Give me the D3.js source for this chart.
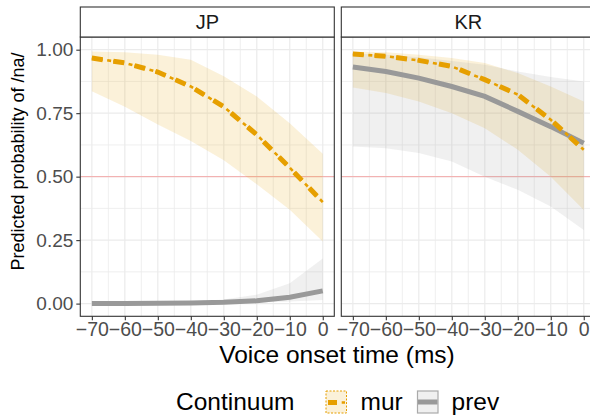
<!DOCTYPE html>
<html>
<head>
<meta charset="utf-8">
<script src="https://cdn.jsdelivr.net/npm/d3@7"></script>
<style>
  body { margin: 0; background: #fff; }
  text { font-family: "Liberation Sans", Arial, sans-serif; }
</style>
</head>
<body>
<div id="chart"></div>
<script>
// Voice onset time steps (ms)
const vot = [-70, -60, -50, -40, -30, -20, -10, 0];
const panels = ["JP", "KR"];

// Predicted probabilities
const jpMur = [0.967, 0.948, 0.912, 0.855, 0.775, 0.665, 0.535, 0.40];
const jpMurLo = [0.836, 0.775, 0.705, 0.64, 0.565, 0.47, 0.37, 0.245];
const jpMurHi = [0.993, 0.99, 0.98, 0.96, 0.895, 0.816, 0.71, 0.59];
const jpPrev = [0.0, 0.0005, 0.001, 0.002, 0.005, 0.011, 0.025, 0.05];
const jpPrevLo = [0, 0, 0, 0.001, 0.002, 0.004, 0.008, 0.014];
const jpPrevHi = [0.001, 0.002, 0.004, 0.008, 0.016, 0.035, 0.08, 0.178];

const krMur = [0.983, 0.974, 0.958, 0.934, 0.882, 0.823, 0.724, 0.606];
const krMurLo = [0.851, 0.829, 0.796, 0.75, 0.691, 0.606, 0.50, 0.369];
const krMurHi = [0.993, 0.99, 0.98, 0.967, 0.948, 0.908, 0.855, 0.796];
const krPrev = [0.932, 0.914, 0.888, 0.855, 0.816, 0.757, 0.697, 0.632];
const krPrevLo = [0.619, 0.612, 0.593, 0.56, 0.50, 0.448, 0.382, 0.29];
const krPrevHi = [0.985, 0.98, 0.97, 0.955, 0.941, 0.914, 0.892, 0.875];

const yTicks = [0, 0.25, 0.5, 0.75, 1];
const yMinor = [0.125, 0.375, 0.625, 0.875];
const xTicks = [-70, -60, -50, -40, -30, -20, -10, 0];
const xMinor = [-65, -55, -45, -35, -25, -15, -5];

const series = {
  JP: { mur: [jpMur, jpMurLo, jpMurHi], prev: [jpPrev, jpPrevLo, jpPrevHi] },
  KR: { mur: [krMur, krMurLo, krMurHi], prev: [krPrev, krPrevLo, krPrevHi] }
};

const orange = "#E69F00";
const grey = "#999999";

const width = 590;
const height = 416;
const panelW = 254;
const panelLeft = { JP: 80.3, KR: 341.3 };
const stripTop = 7;
const panelTop = 37;
const panelBottom = 316.3;

const svg = d3.select("#chart")
  .append("svg")
  .attr("width", width)
  .attr("height", height);

const y = d3.scaleLinear()
  .domain([-0.05, 1.05])
  .range([panelBottom, panelTop]);

panels.forEach(p => {
  const x0 = panelLeft[p];
  const x = d3.scaleLinear()
    .domain([-73.5, 3.5])
    .range([x0, x0 + panelW]);

  const g = svg.append("g");
  const clipId = "clip" + p;
  g.append("clipPath").attr("id", clipId)
    .append("rect")
    .attr("x", x0).attr("y", panelTop)
    .attr("width", panelW).attr("height", panelBottom - panelTop);

  // Grid
  g.selectAll(".ymin").data(yMinor).join("line")
    .attr("x1", x0).attr("x2", x0 + panelW)
    .attr("y1", d => y(d)).attr("y2", d => y(d))
    .attr("stroke", "#EBEBEB").attr("stroke-width", 0.8);
  g.selectAll(".xmin").data(xMinor).join("line")
    .attr("x1", d => x(d)).attr("x2", d => x(d))
    .attr("y1", panelTop).attr("y2", panelBottom)
    .attr("stroke", "#EBEBEB").attr("stroke-width", 0.8);
  g.selectAll(".ymaj").data(yTicks).join("line")
    .attr("x1", x0).attr("x2", x0 + panelW)
    .attr("y1", d => y(d)).attr("y2", d => y(d))
    .attr("stroke", "#EBEBEB").attr("stroke-width", 1.2);
  g.selectAll(".xmaj").data(xTicks).join("line")
    .attr("x1", d => x(d)).attr("x2", d => x(d))
    .attr("y1", panelTop).attr("y2", panelBottom)
    .attr("stroke", "#EBEBEB").attr("stroke-width", 1.2);

  // Reference line at 0.5
  g.append("line")
    .attr("x1", x0).attr("x2", x0 + panelW)
    .attr("y1", y(0.5)).attr("y2", y(0.5))
    .attr("stroke", "#F4A9A9").attr("stroke-width", 1);

  const plot = g.append("g").attr("clip-path", `url(#${clipId})`);

  const area = (lo, hi) => d3.area()
    .x((d, i) => x(vot[i]))
    .y0((d, i) => y(lo[i]))
    .y1((d, i) => y(hi[i]))(vot);
  const line = vals => d3.line()
    .x((d, i) => x(vot[i]))
    .y((d, i) => y(vals[i]))(vot);

  const s = series[p];
  plot.append("path").attr("d", area(s.mur[1], s.mur[2]))
    .attr("fill", orange).attr("fill-opacity", 0.15);
  plot.append("path").attr("d", area(s.prev[1], s.prev[2]))
    .attr("fill", grey).attr("fill-opacity", 0.15);

  plot.append("path").attr("d", line(s.prev[0]))
    .attr("fill", "none").attr("stroke", grey).attr("stroke-width", 5);

  // dot-dash: thick dashes with thin dots between
  plot.append("path").attr("d", line(s.mur[0]))
    .attr("fill", "none").attr("stroke", orange).attr("stroke-width", 2.6)
    .attr("stroke-dasharray", "11 4.5 4 2.2");
  plot.append("path").attr("d", line(s.mur[0]))
    .attr("fill", "none").attr("stroke", orange).attr("stroke-width", 5)
    .attr("stroke-dasharray", "11 10.7");

  // Panel border
  g.append("rect")
    .attr("x", x0).attr("y", panelTop)
    .attr("width", panelW).attr("height", panelBottom - panelTop)
    .attr("fill", "none").attr("stroke", "#333333").attr("stroke-width", 1.1);

  // Strip
  g.append("rect")
    .attr("x", x0).attr("y", stripTop)
    .attr("width", panelW).attr("height", panelTop - stripTop)
    .attr("fill", "#fff").attr("stroke", "#333333").attr("stroke-width", 1.1);
  g.append("text")
    .attr("x", x0 + panelW / 2).attr("y", (stripTop + panelTop) / 2)
    .attr("dy", "0.35em")
    .attr("text-anchor", "middle")
    .attr("fill", "#1A1A1A")
    .style("font-size", "20px")
    .text(p);

  // X axis
  const xAxis = d3.axisBottom(x)
    .tickValues(xTicks)
    .tickSize(4)
    .tickPadding(2)
    .tickFormat(d => d < 0 ? "\u2212" + Math.abs(d) : d);
  const xa = g.append("g")
    .attr("transform", `translate(0,${panelBottom})`)
    .call(xAxis);
  xa.select(".domain").remove();
  xa.selectAll(".tick line").attr("stroke", "#333333").attr("stroke-width", 1.1);
  xa.selectAll("text")
    .attr("fill", "#4D4D4D")
    .style("font-size", "19.5px")
    .style("font-family", "Liberation Sans, Arial, sans-serif");

  // Y axis only on first panel
  if (p === "JP") {
    const yAxis = d3.axisLeft(y)
      .tickValues(yTicks)
      .tickSize(4)
      .tickPadding(3)
      .tickFormat(d3.format(".2f"));
    const ya = g.append("g")
      .attr("transform", `translate(${x0},0)`)
      .call(yAxis);
    ya.select(".domain").remove();
    ya.selectAll(".tick line").attr("stroke", "#333333").attr("stroke-width", 1.1);
    ya.selectAll("text")
      .attr("fill", "#4D4D4D")
      .style("font-size", "19px")
      .style("font-family", "Liberation Sans, Arial, sans-serif");
  }
});

// Axis titles
svg.append("text")
  .attr("x", 337).attr("y", 363)
  .attr("text-anchor", "middle")
  .attr("fill", "#000")
  .style("font-size", "24.5px")
  .text("Voice onset time (ms)");

svg.append("text")
  .attr("transform", "rotate(-90)")
  .attr("x", -161.5).attr("y", 24)
  .attr("text-anchor", "middle")
  .attr("fill", "#000")
  .style("font-size", "18px")
  .text("Predicted probability of /na/");

// Legend
const leg = svg.append("g");
leg.append("text")
  .attr("x", 176).attr("y", 410)
  .attr("fill", "#000")
  .style("font-size", "24.5px")
  .text("Continuum");

// mur key
leg.append("rect")
  .attr("x", 326).attr("y", 391).attr("width", 20.5).attr("height", 22)
  .attr("fill", orange).attr("fill-opacity", 0.15)
  .attr("stroke", orange).attr("stroke-width", 1)
  .attr("stroke-dasharray", "2 1.5");
leg.append("line")
  .attr("x1", 328).attr("x2", 345).attr("y1", 402.5).attr("y2", 402.5)
  .attr("stroke", orange).attr("stroke-width", 2.6)
  .attr("stroke-dasharray", "9 4.7 3.3 10");
leg.append("line")
  .attr("x1", 328).attr("x2", 337).attr("y1", 402.5).attr("y2", 402.5)
  .attr("stroke", orange).attr("stroke-width", 5);
leg.append("text")
  .attr("x", 360.5).attr("y", 410)
  .attr("fill", "#000")
  .style("font-size", "24.5px")
  .text("mur");

// prev key
leg.append("rect")
  .attr("x", 417.5).attr("y", 391).attr("width", 20.5).attr("height", 22)
  .attr("fill", grey).attr("fill-opacity", 0.15)
  .attr("stroke", "#AAAAAA").attr("stroke-width", 1.2);
leg.append("line")
  .attr("x1", 418).attr("x2", 437.5).attr("y1", 402).attr("y2", 402)
  .attr("stroke", grey).attr("stroke-width", 5);
leg.append("text")
  .attr("x", 451.5).attr("y", 410)
  .attr("fill", "#000")
  .style("font-size", "24.5px")
  .text("prev");
</script>
</body>
</html>
